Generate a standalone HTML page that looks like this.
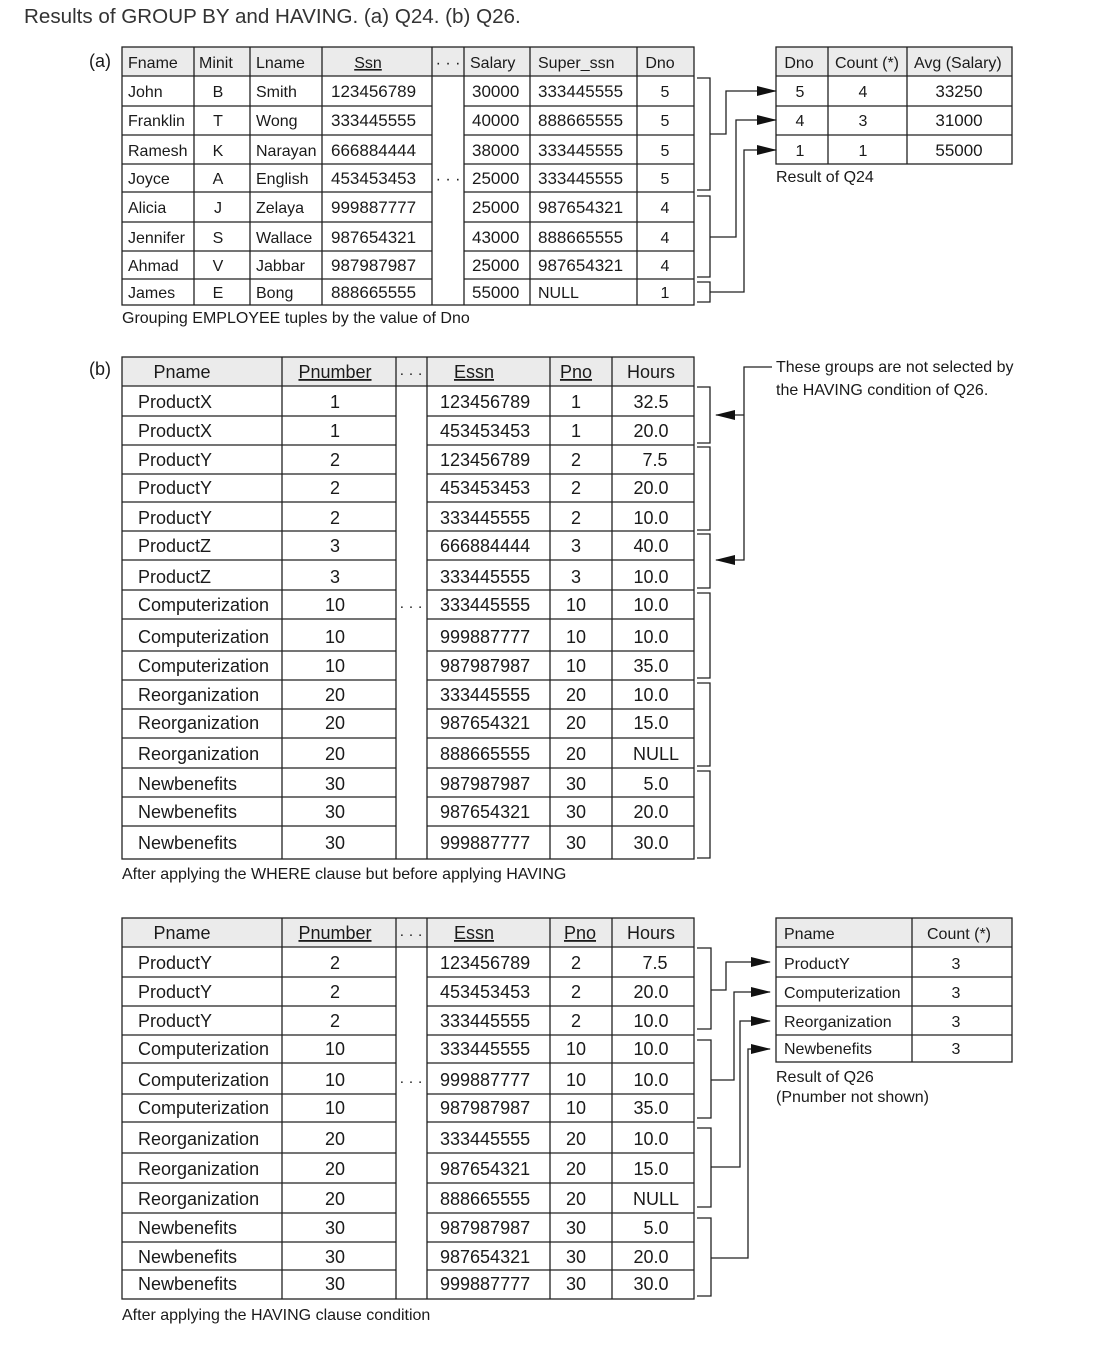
<!DOCTYPE html>
<html><head><meta charset="utf-8"><style>
html,body{margin:0;padding:0;background:#fff;}
svg{display:block;font-family:"Liberation Sans",Arial,sans-serif;fill:#1a1a1a;}
.a{font-size:16px}.b{font-size:18px}
.n{font-size:17px}
.l{stroke:#222;stroke-width:1.3;fill:none}
.c{text-anchor:middle}
</style></head><body>
<svg width="1096" height="1349" viewBox="0 0 1096 1349" xmlns="http://www.w3.org/2000/svg">
<defs><marker id="ar" markerWidth="20" markerHeight="10" refX="19" refY="5" orient="auto" markerUnits="userSpaceOnUse"><path d="M0,0 L20,5 L0,10 Z" fill="#111"/></marker></defs>
<text x="24" y="23" style="font-size:20.6px" fill="#333">Results of GROUP BY and HAVING. (a) Q24. (b) Q26.</text>

<!-- (a) -->
<text x="89" y="67" class="b">(a)</text>
<rect x="122" y="47" width="572" height="29" fill="#ebebeb"/>
<g class="l">
<rect x="122" y="47" width="572" height="258"/>
<path d="M122 76H694M122 106H432M464 106H694M122 135H432M464 135H694M122 164H432M464 164H694M122 192H432M464 192H694M122 222H432M464 222H694M122 251H432M464 251H694M122 279H432M464 279H694"/>
<path d="M194 47V305M250 47V305M322 47V305M432 47V305M464 47V305M530 47V305M637 47V305"/>
</g>
<g class="a">
<text x="128" y="68">Fname</text><text x="199" y="68">Minit</text><text x="256" y="68">Lname</text><text x="368" y="68" class="c" text-decoration="underline">Ssn</text><text x="448" y="68" class="c">· · ·</text><text x="470" y="68">Salary</text><text x="538" y="68">Super_ssn</text><text x="660" y="68" class="c">Dno</text>
<text x="128" y="97">John</text><text x="218" y="97" class="c">B</text><text x="256" y="97">Smith</text><text x="331" y="97" class="n">123456789</text><text x="472" y="97" class="n">30000</text><text x="538" y="97" class="n">333445555</text><text x="665" y="97" class="c">5</text>
<text x="128" y="126">Franklin</text><text x="218" y="126" class="c">T</text><text x="256" y="126">Wong</text><text x="331" y="126" class="n">333445555</text><text x="472" y="126" class="n">40000</text><text x="538" y="126" class="n">888665555</text><text x="665" y="126" class="c">5</text>
<text x="128" y="156">Ramesh</text><text x="218" y="156" class="c">K</text><text x="256" y="156">Narayan</text><text x="331" y="156" class="n">666884444</text><text x="472" y="156" class="n">38000</text><text x="538" y="156" class="n">333445555</text><text x="665" y="156" class="c">5</text>
<text x="128" y="184">Joyce</text><text x="218" y="184" class="c">A</text><text x="256" y="184">English</text><text x="331" y="184" class="n">453453453</text><text x="448" y="184" class="c">· · ·</text><text x="472" y="184" class="n">25000</text><text x="538" y="184" class="n">333445555</text><text x="665" y="184" class="c">5</text>
<text x="128" y="213">Alicia</text><text x="218" y="213" class="c">J</text><text x="256" y="213">Zelaya</text><text x="331" y="213" class="n">999887777</text><text x="472" y="213" class="n">25000</text><text x="538" y="213" class="n">987654321</text><text x="665" y="213" class="c">4</text>
<text x="128" y="243">Jennifer</text><text x="218" y="243" class="c">S</text><text x="256" y="243">Wallace</text><text x="331" y="243" class="n">987654321</text><text x="472" y="243" class="n">43000</text><text x="538" y="243" class="n">888665555</text><text x="665" y="243" class="c">4</text>
<text x="128" y="271">Ahmad</text><text x="218" y="271" class="c">V</text><text x="256" y="271">Jabbar</text><text x="331" y="271" class="n">987987987</text><text x="472" y="271" class="n">25000</text><text x="538" y="271" class="n">987654321</text><text x="665" y="271" class="c">4</text>
<text x="128" y="298">James</text><text x="218" y="298" class="c">E</text><text x="256" y="298">Bong</text><text x="331" y="298" class="n">888665555</text><text x="472" y="298" class="n">55000</text><text x="538" y="298">NULL</text><text x="665" y="298" class="c">1</text>
<text x="122" y="323">Grouping EMPLOYEE tuples by the value of Dno</text>
</g>
<rect x="776" y="47" width="236" height="29" fill="#ebebeb"/>
<g class="l"><rect x="776" y="47" width="236" height="117"/><path d="M776 76H1012M776 106H1012M776 135H1012M828 47V164M907 47V164"/></g>
<g class="a">
<text x="799" y="68" class="c">Dno</text><text x="867" y="68" class="c">Count (*)</text><text x="914" y="68">Avg (Salary)</text>
<text x="800" y="97" class="c">5</text><text x="863" y="97" class="c">4</text><text x="959" y="97" class="c n">33250</text>
<text x="800" y="126" class="c">4</text><text x="863" y="126" class="c">3</text><text x="959" y="126" class="c n">31000</text>
<text x="800" y="156" class="c">1</text><text x="863" y="156" class="c">1</text><text x="959" y="156" class="c n">55000</text>
<text x="776" y="182">Result of Q24</text>
</g>
<g class="l">
<path d="M697 78H710V190H697M697 196H710V277H697M697 282H710V302H697"/>
<path d="M710 134H726V91H776" marker-end="url(#ar)"/>
<path d="M710 237H736V120H776" marker-end="url(#ar)"/>
<path d="M710 292H744V150H776" marker-end="url(#ar)"/>
</g>

<!-- (b) -->
<text x="89" y="375" class="b">(b)</text>
<rect x="122" y="357" width="572" height="29" fill="#ebebeb"/>
<g class="l">
<rect x="122" y="357" width="572" height="502"/>
<path d="M122 386H694M122 416H396M427 416H694M122 445H396M427 445H694M122 474H396M427 474H694M122 502H396M427 502H694M122 531H396M427 531H694M122 560H396M427 560H694M122 590H396M427 590H694M122 619H396M427 619H694M122 651H396M427 651H694M122 680H396M427 680H694M122 709H396M427 709H694M122 738H396M427 738H694M122 768H396M427 768H694M122 797H396M427 797H694M122 826H396M427 826H694"/>
<path d="M282 357V859M396 357V859M427 357V859M550 357V859M612 357V859"/>
</g>
<g class="b">
<text x="182" y="378" class="c">Pname</text><text x="335" y="378" class="c" text-decoration="underline">Pnumber</text><text x="411" y="378" class="c" style="font-size:15px">· · ·</text><text x="474" y="378" class="c" text-decoration="underline">Essn</text><text x="576" y="378" class="c" text-decoration="underline">Pno</text><text x="651" y="378" class="c">Hours</text>
<text x="138" y="408">ProductX</text><text x="335" y="408" class="c">1</text><text x="440" y="408">123456789</text><text x="576" y="408" class="c">1</text><text x="651" y="408" class="c">32.5</text>
<text x="138" y="437">ProductX</text><text x="335" y="437" class="c">1</text><text x="440" y="437">453453453</text><text x="576" y="437" class="c">1</text><text x="651" y="437" class="c">20.0</text>
<text x="138" y="466">ProductY</text><text x="335" y="466" class="c">2</text><text x="440" y="466">123456789</text><text x="576" y="466" class="c">2</text><text x="655" y="466" class="c">7.5</text>
<text x="138" y="494">ProductY</text><text x="335" y="494" class="c">2</text><text x="440" y="494">453453453</text><text x="576" y="494" class="c">2</text><text x="651" y="494" class="c">20.0</text>
<text x="138" y="524">ProductY</text><text x="335" y="524" class="c">2</text><text x="440" y="524">333445555</text><text x="576" y="524" class="c">2</text><text x="651" y="524" class="c">10.0</text>
<text x="138" y="552">ProductZ</text><text x="335" y="552" class="c">3</text><text x="440" y="552">666884444</text><text x="576" y="552" class="c">3</text><text x="651" y="552" class="c">40.0</text>
<text x="138" y="583">ProductZ</text><text x="335" y="583" class="c">3</text><text x="440" y="583">333445555</text><text x="576" y="583" class="c">3</text><text x="651" y="583" class="c">10.0</text>
<text x="138" y="611">Computerization</text><text x="335" y="611" class="c">10</text><text x="411" y="611" class="c" style="font-size:15px">· · ·</text><text x="440" y="611">333445555</text><text x="576" y="611" class="c">10</text><text x="651" y="611" class="c">10.0</text>
<text x="138" y="643">Computerization</text><text x="335" y="643" class="c">10</text><text x="440" y="643">999887777</text><text x="576" y="643" class="c">10</text><text x="651" y="643" class="c">10.0</text>
<text x="138" y="672">Computerization</text><text x="335" y="672" class="c">10</text><text x="440" y="672">987987987</text><text x="576" y="672" class="c">10</text><text x="651" y="672" class="c">35.0</text>
<text x="138" y="701">Reorganization</text><text x="335" y="701" class="c">20</text><text x="440" y="701">333445555</text><text x="576" y="701" class="c">20</text><text x="651" y="701" class="c">10.0</text>
<text x="138" y="729">Reorganization</text><text x="335" y="729" class="c">20</text><text x="440" y="729">987654321</text><text x="576" y="729" class="c">20</text><text x="651" y="729" class="c">15.0</text>
<text x="138" y="760">Reorganization</text><text x="335" y="760" class="c">20</text><text x="440" y="760">888665555</text><text x="576" y="760" class="c">20</text><text x="656" y="760" class="c">NULL</text>
<text x="138" y="790">Newbenefits</text><text x="335" y="790" class="c">30</text><text x="440" y="790">987987987</text><text x="576" y="790" class="c">30</text><text x="656" y="790" class="c">5.0</text>
<text x="138" y="818">Newbenefits</text><text x="335" y="818" class="c">30</text><text x="440" y="818">987654321</text><text x="576" y="818" class="c">30</text><text x="651" y="818" class="c">20.0</text>
<text x="138" y="849">Newbenefits</text><text x="335" y="849" class="c">30</text><text x="440" y="849">999887777</text><text x="576" y="849" class="c">30</text><text x="651" y="849" class="c">30.0</text>
</g>
<text x="122" y="879" class="a">After applying the WHERE clause but before applying HAVING</text>
<g class="l">
<path d="M697 387H710V443H697M697 447H710V530H697M697 534H710V588H697M697 593H710V678H697M697 683H710V766H697M697 771H710V858H697"/>
<path d="M772 367H744V560H716" marker-end="url(#ar)"/>
<path d="M744 415H716" marker-end="url(#ar)"/>
</g>
<text x="776" y="372" class="a">These groups are not selected by</text>
<text x="776" y="395" class="a">the HAVING condition of Q26.</text>

<!-- (c) -->
<rect x="122" y="918" width="572" height="29" fill="#ebebeb"/>
<g class="l">
<rect x="122" y="918" width="572" height="381"/>
<path d="M122 947H694M122 977H396M427 977H694M122 1006H396M427 1006H694M122 1035H396M427 1035H694M122 1063H396M427 1063H694M122 1094H396M427 1094H694M122 1122H396M427 1122H694M122 1153H396M427 1153H694M122 1183H396M427 1183H694M122 1213H396M427 1213H694M122 1242H396M427 1242H694M122 1270H396M427 1270H694"/>
<path d="M282 918V1299M396 918V1299M427 918V1299M550 918V1299M612 918V1299"/>
</g>
<g class="b">
<text x="182" y="939" class="c">Pname</text><text x="335" y="939" class="c" text-decoration="underline">Pnumber</text><text x="411" y="939" class="c" style="font-size:15px">· · ·</text><text x="474" y="939" class="c" text-decoration="underline">Essn</text><text x="580" y="939" class="c" text-decoration="underline">Pno</text><text x="651" y="939" class="c">Hours</text>
<text x="138" y="969">ProductY</text><text x="335" y="969" class="c">2</text><text x="440" y="969">123456789</text><text x="576" y="969" class="c">2</text><text x="655" y="969" class="c">7.5</text>
<text x="138" y="998">ProductY</text><text x="335" y="998" class="c">2</text><text x="440" y="998">453453453</text><text x="576" y="998" class="c">2</text><text x="651" y="998" class="c">20.0</text>
<text x="138" y="1027">ProductY</text><text x="335" y="1027" class="c">2</text><text x="440" y="1027">333445555</text><text x="576" y="1027" class="c">2</text><text x="651" y="1027" class="c">10.0</text>
<text x="138" y="1055">Computerization</text><text x="335" y="1055" class="c">10</text><text x="440" y="1055">333445555</text><text x="576" y="1055" class="c">10</text><text x="651" y="1055" class="c">10.0</text>
<text x="138" y="1086">Computerization</text><text x="335" y="1086" class="c">10</text><text x="411" y="1086" class="c" style="font-size:15px">· · ·</text><text x="440" y="1086">999887777</text><text x="576" y="1086" class="c">10</text><text x="651" y="1086" class="c">10.0</text>
<text x="138" y="1114">Computerization</text><text x="335" y="1114" class="c">10</text><text x="440" y="1114">987987987</text><text x="576" y="1114" class="c">10</text><text x="651" y="1114" class="c">35.0</text>
<text x="138" y="1145">Reorganization</text><text x="335" y="1145" class="c">20</text><text x="440" y="1145">333445555</text><text x="576" y="1145" class="c">20</text><text x="651" y="1145" class="c">10.0</text>
<text x="138" y="1175">Reorganization</text><text x="335" y="1175" class="c">20</text><text x="440" y="1175">987654321</text><text x="576" y="1175" class="c">20</text><text x="651" y="1175" class="c">15.0</text>
<text x="138" y="1205">Reorganization</text><text x="335" y="1205" class="c">20</text><text x="440" y="1205">888665555</text><text x="576" y="1205" class="c">20</text><text x="656" y="1205" class="c">NULL</text>
<text x="138" y="1234">Newbenefits</text><text x="335" y="1234" class="c">30</text><text x="440" y="1234">987987987</text><text x="576" y="1234" class="c">30</text><text x="656" y="1234" class="c">5.0</text>
<text x="138" y="1263">Newbenefits</text><text x="335" y="1263" class="c">30</text><text x="440" y="1263">987654321</text><text x="576" y="1263" class="c">30</text><text x="651" y="1263" class="c">20.0</text>
<text x="138" y="1290">Newbenefits</text><text x="335" y="1290" class="c">30</text><text x="440" y="1290">999887777</text><text x="576" y="1290" class="c">30</text><text x="651" y="1290" class="c">30.0</text>
</g>
<text x="122" y="1320" class="a">After applying the HAVING clause condition</text>
<rect x="776" y="918" width="236" height="29" fill="#ebebeb"/>
<g class="l"><rect x="776" y="918" width="236" height="144"/><path d="M776 947H1012M776 977H1012M776 1006H1012M776 1035H1012M912 918V1062"/></g>
<g class="a">
<text x="784" y="939">Pname</text><text x="959" y="939" class="c">Count (*)</text>
<text x="784" y="969">ProductY</text><text x="956" y="969" class="c">3</text>
<text x="784" y="998">Computerization</text><text x="956" y="998" class="c">3</text>
<text x="784" y="1027">Reorganization</text><text x="956" y="1027" class="c">3</text>
<text x="784" y="1054">Newbenefits</text><text x="956" y="1054" class="c">3</text>
<text x="776" y="1082">Result of Q26</text>
<text x="776" y="1102">(Pnumber not shown)</text>
</g>
<g class="l">
<path d="M697 948H711V1029H697M697 1040H711V1118H697M697 1128H711V1207H697M697 1218H711V1296H697"/>
<path d="M711 990H726V962H770" marker-end="url(#ar)"/>
<path d="M711 1080H734V992H770" marker-end="url(#ar)"/>
<path d="M711 1167H740V1021H770" marker-end="url(#ar)"/>
<path d="M711 1258H748V1049H770" marker-end="url(#ar)"/>
</g>
</svg>
</body></html>
